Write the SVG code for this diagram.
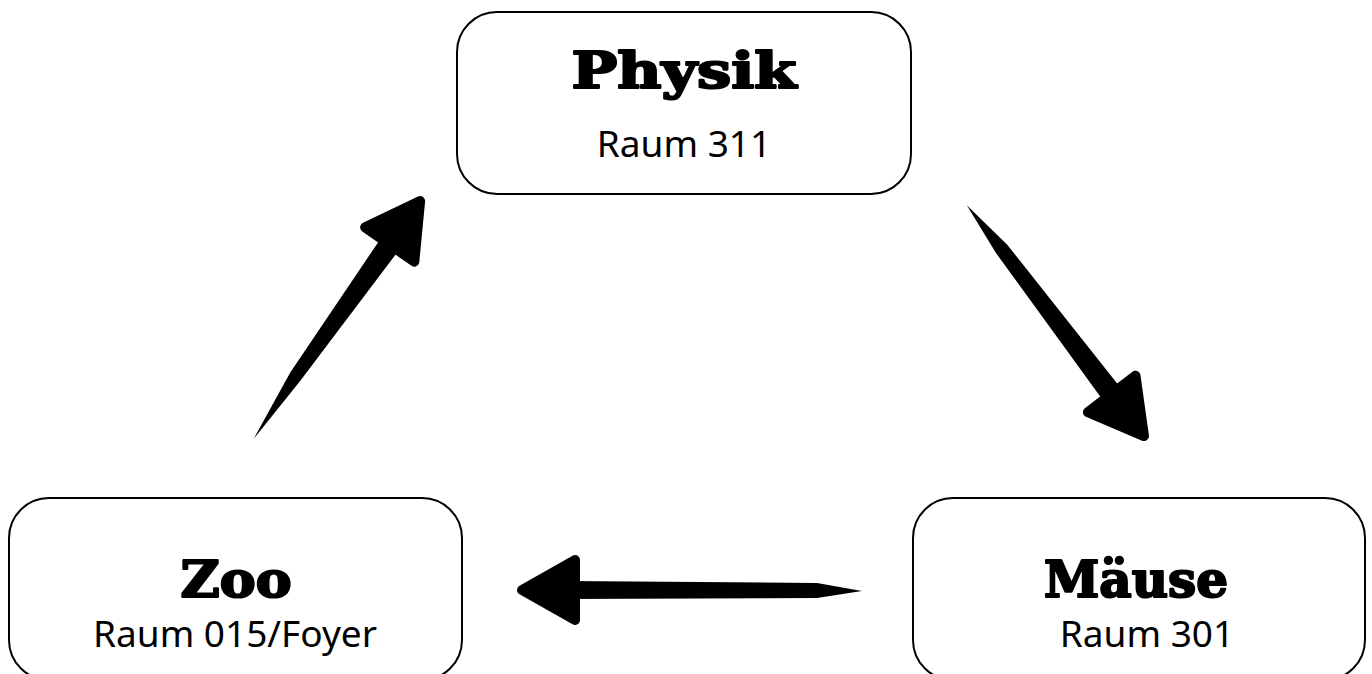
<svg xmlns="http://www.w3.org/2000/svg" xmlns:xlink="http://www.w3.org/1999/xlink" width="1372" height="674" viewBox="0 0 1372 674">
<style>
.box{fill:#fff;stroke:#000;stroke-width:2}
.title{font-family:"DejaVu Serif","Liberation Serif",serif;font-weight:bold;font-size:50px;text-anchor:middle;fill:#000;stroke:#000;stroke-width:2.2;stroke-linejoin:round}
.sub{font-family:"Noto Sans","DejaVu Sans",sans-serif;font-size:37px;text-anchor:middle;fill:#000}
.shaft{fill:#000}
</style>
<defs>
<path id="head" d="M-5,0 L-58,-30 L-58,30 Z" fill="#000" stroke="#000" stroke-width="10" stroke-linejoin="round"/>
</defs>
<rect width="1372" height="674" fill="#fff"/>
<g id="connectors">
<g id="arrow-zoo-physik" transform="translate(423,197) rotate(-55)">
<path class="shaft" d="M-50,-11 L-220,-8 L-295,0 L-220,5 L-50,11 Z"/>
<use xlink:href="#head"/>
</g>
<g id="arrow-physik-maeuse" transform="translate(1147,440) rotate(52.5)">
<path class="shaft" d="M-50,-11 L-240,-8 L-296,0 L-240,6 L-50,11 Z"/>
<use xlink:href="#head"/>
</g>
<g id="arrow-maeuse-zoo" transform="translate(517,590) rotate(180)">
<path class="shaft" d="M-50,-9 L-300,-8 L-345,-1 L-300,7 L-50,9 Z"/>
<use xlink:href="#head"/>
</g>
</g>
<g id="node-physik">
<rect class="box" x="457" y="12" width="454" height="182" rx="40" ry="40"/>
<text class="title" x="684" y="88" textLength="225" lengthAdjust="spacingAndGlyphs">Physik</text>
<text class="sub" x="684" y="157">Raum 311</text>
</g>
<g id="node-zoo">
<rect class="box" x="9" y="498" width="453" height="182" rx="40" ry="40"/>
<text class="title" x="236" y="597" textLength="111" lengthAdjust="spacingAndGlyphs">Zoo</text>
<text class="sub" x="235" y="647">Raum 015/Foyer</text>
</g>
<g id="node-maeuse">
<rect class="box" x="913" y="498" width="452" height="182" rx="40" ry="40"/>
<text class="title" x="1136" y="597">Mäuse</text>
<text class="sub" x="1147" y="647">Raum 301</text>
</g>
</svg>
